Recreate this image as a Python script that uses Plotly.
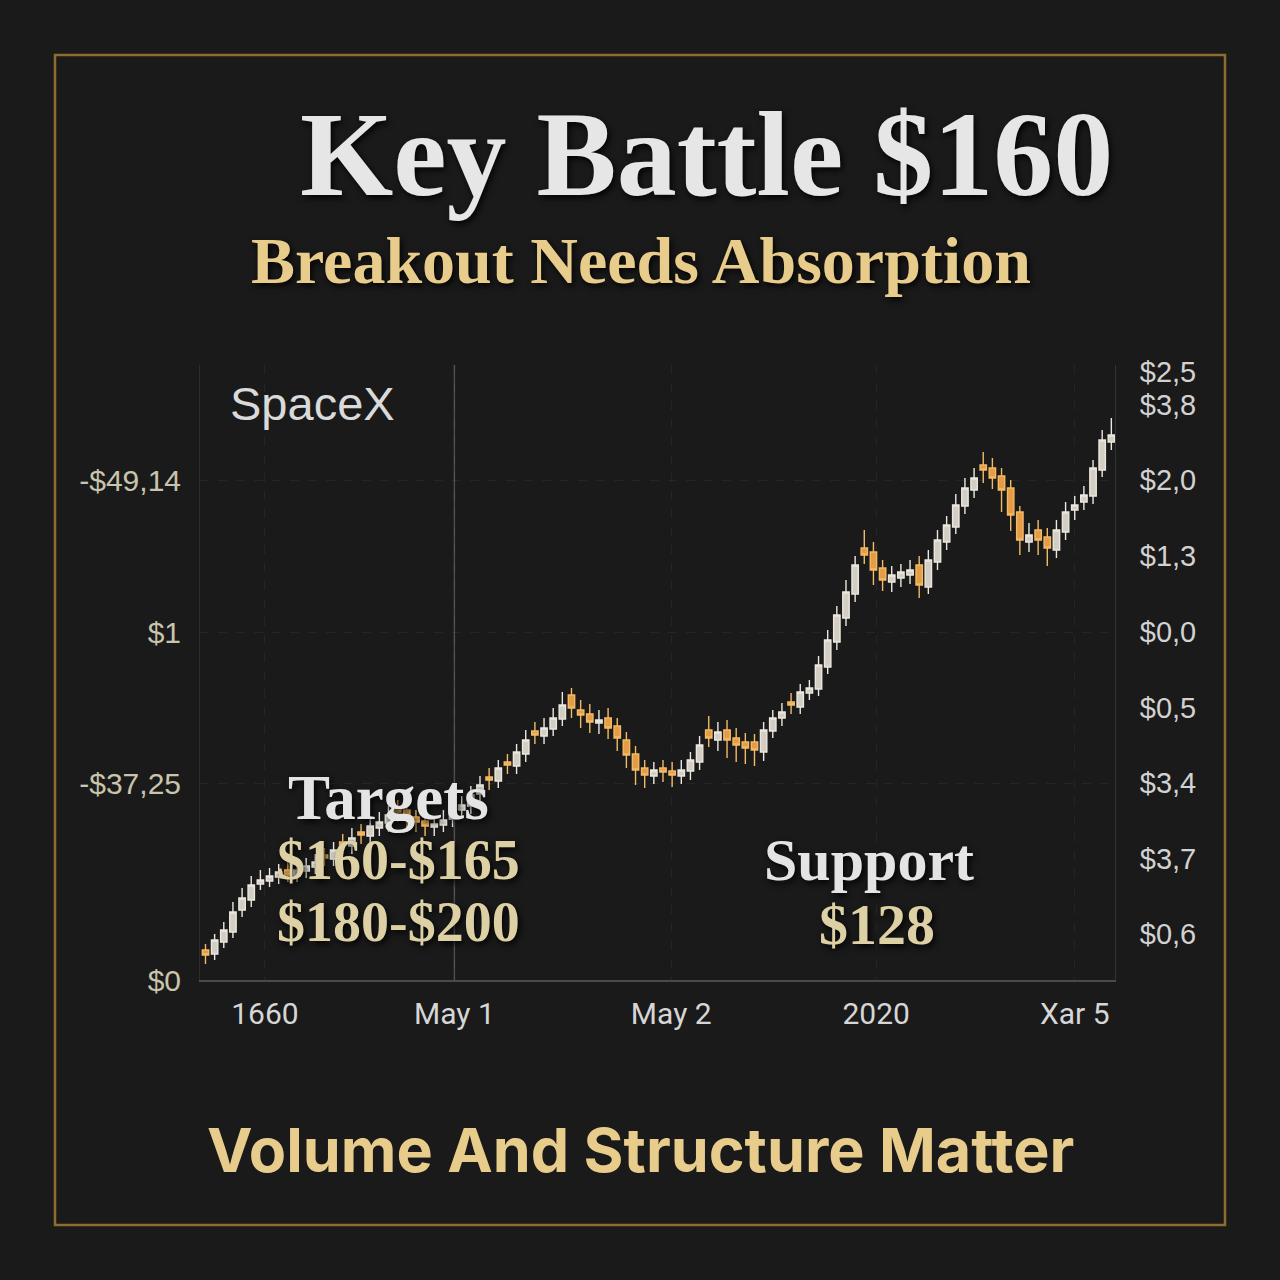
import plotly.graph_objects as go

# ---------------- data ----------------
opens = [30, 26, 38, 48, 70, 80, 96, 99, 103, 110, 104, 109, 113, 125, 121, 138, 134, 148, 144, 152,
         157, 172, 170, 163, 159, 153, 155, 161, 170, 174, 186, 203, 199, 218, 214, 226, 249, 244, 251, 261,
         285, 270, 266, 257, 262, 254, 240, 226, 212, 204, 212, 209, 204, 209, 218, 250, 240, 250, 242, 238,
         238, 228, 249, 262, 278, 273, 287, 291, 313, 338, 362, 386, 432, 428, 412, 398, 402, 405, 415, 393,
         418, 438, 453, 474, 490, 515, 512, 504, 492, 468, 438, 450, 443, 430, 448, 470, 478, 484, 510, 538]
closes = [25, 40, 50, 68, 82, 95, 100, 104, 108, 105, 110, 114, 118, 122, 130, 135, 142, 145, 154, 158,
          165, 168, 162, 158, 154, 156, 160, 168, 175, 185, 195, 200, 212, 215, 228, 240, 245, 252, 262, 275,
          272, 265, 258, 260, 252, 242, 225, 210, 205, 210, 208, 205, 210, 220, 235, 242, 248, 240, 235, 232,
          230, 250, 262, 268, 275, 288, 292, 315, 340, 365, 388, 415, 425, 410, 400, 405, 408, 410, 395, 420,
          440, 455, 475, 492, 502, 510, 502, 490, 465, 440, 445, 440, 432, 450, 468, 475, 485, 512, 540, 545]
highs = [36, 46, 58, 78, 92, 104, 110, 112, 116, 118, 120, 122, 126, 132, 138, 146, 152, 156, 162, 168,
         174, 180, 178, 170, 166, 164, 170, 177, 184, 194, 204, 212, 220, 226, 236, 250, 258, 262, 272, 288,
         292, 280, 276, 270, 272, 262, 248, 234, 220, 218, 220, 218, 220, 228, 244, 264, 258, 260, 252, 247,
         246, 258, 270, 277, 287, 296, 300, 324, 350, 374, 400, 424, 450, 438, 420, 414, 416, 420, 424, 430,
         450, 464, 486, 502, 512, 528, 522, 512, 500, 474, 457, 460, 452, 460, 478, 484, 494, 520, 550, 562]
lows = [16, 20, 32, 42, 63, 73, 90, 93, 96, 98, 98, 102, 106, 114, 114, 126, 126, 136, 136, 144,
        148, 158, 152, 148, 144, 144, 148, 153, 162, 166, 178, 190, 192, 206, 206, 218, 236, 236, 244, 254,
        262, 252, 247, 246, 241, 229, 212, 195, 192, 196, 198, 193, 196, 200, 210, 233, 229, 222, 218, 216,
        214, 219, 242, 254, 266, 266, 280, 284, 306, 330, 354, 378, 416, 395, 389, 388, 393, 396, 382, 386,
        410, 430, 446, 466, 482, 497, 491, 468, 449, 425, 428, 425, 414, 422, 440, 460, 470, 476, 503, 530]
idx = list(range(len(closes)))

x_tick_vals = [6.5, 27.2, 50.9, 73.3, 95.0]
x_tick_text = ["1660", "May 1", "May 2", "2020", "Xar 5"]
left_tick_vals = [0, 197, 348, 500]
left_tick_text = ["$0", "-$37,25", "$1", "-$49,14"]
right_tick_vals = [46, 121, 197, 272, 348, 424, 500, 575, 608]
right_tick_text = ["$0,6", "$3,7", "$3,4", "$0,5", "$0,0", "$1,3", "$2,0", "$3,8", "$2,5"]

# ---------------- layout helpers ----------------
W, H = 1280, 1280
PL, PR, PT, PB = 200, 1115, 365, 980


def px(x):
    return (x - PL) / (PR - PL)


def py(y):
    return (PB - y) / (PB - PT)


BG = "#1a1a1a"
GOLD = "#e8cc8c"
BEIGE = "#dcd0a4"
SHADOW = "2px 3px 6px rgba(0,0,0,0.9)"

fig = go.Figure()
fig.add_trace(go.Candlestick(
    x=idx, open=opens, high=highs, low=lows, close=closes,
    increasing=dict(fillcolor="#d2cec4", line=dict(color="#ebe7de", width=1.4)),
    decreasing=dict(fillcolor="#e59c44", line=dict(color="#f3ba66", width=1.4)),
    whiskerwidth=0, showlegend=False, hoverinfo="skip",
))
# invisible trace to activate right axis
fig.add_trace(go.Scatter(x=[idx[0]], y=[closes[0]], yaxis="y2", mode="markers",
                         marker=dict(opacity=0), showlegend=False, hoverinfo="skip"))

fig.update_layout(
    width=W, height=H,
    paper_bgcolor=BG, plot_bgcolor=BG,
    margin=dict(l=PL, r=W - PR, t=PT, b=H - PB),
    showlegend=False,
    boxgap=0.0,
    xaxis=dict(
        range=[-0.6, 99.4], rangeslider=dict(visible=False),
        tickmode="array", tickvals=x_tick_vals, ticktext=x_tick_text,
        showgrid=True, gridcolor="rgba(255,255,255,0.05)", griddash="dash", gridwidth=1,
        showline=True, linecolor="#4a4a4a", linewidth=1.5, zeroline=False,
        ticks="", ticklabelstandoff=6,
        tickfont=dict(family="Liberation Sans Narrow, Roboto, sans-serif", size=30, color="#d6d6d6"),
    ),
    yaxis=dict(
        range=[0, 615], tickmode="array", tickvals=left_tick_vals, ticktext=left_tick_text,
        showgrid=True, gridcolor="rgba(255,255,255,0.05)", griddash="dash", gridwidth=1,
        showline=True, linecolor="#2c2c2c", zeroline=False, ticks="", ticklabelstandoff=12,
        tickfont=dict(family="Liberation Sans, Arial, sans-serif", size=30, color="#c9c4ac"),
    ),
    yaxis2=dict(
        range=[0, 615], overlaying="y", side="right", tickmode="array",
        tickvals=right_tick_vals, ticktext=right_tick_text, showgrid=False,
        showline=True, linecolor="#333333", zeroline=False, ticks="", ticklabelstandoff=18,
        tickfont=dict(family="Liberation Sans, Arial, sans-serif", size=29, color="#d2d2d2"),
    ),
)

# bright divider line at May 1
fig.add_shape(type="line", xref="x", yref="paper", x0=27.2, x1=27.2, y0=0, y1=1,
              line=dict(color="rgba(255,255,255,0.22)", width=1.5))
# gold frame
fig.add_shape(type="rect", xref="paper", yref="paper",
              x0=px(55), x1=px(1225), y0=py(1225), y1=py(55),
              line=dict(color="#8d6b2f", width=2.5), fillcolor="rgba(0,0,0,0)", layer="below")

ann = [
    ("Key Battle $160", 706, 155, "center", dict(family="Liberation Serif, serif", size=120, color="#e6e6e6", weight="bold", shadow=SHADOW)),
    ("Breakout Needs Absorption", 641, 260, "center", dict(family="Liberation Serif, serif", size=66, color=GOLD, weight="bold", shadow=SHADOW)),
    ("SpaceX", 228, 403, "left", dict(family="Liberation Sans, Arial, sans-serif", size=47, color="#dadada")),
    ("Targets", 388, 798, "center", dict(family="Liberation Serif, serif", size=63, color="#e4e4e4", weight="bold", shadow=SHADOW)),
    ("$160-$165", 398, 860, "center", dict(family="Liberation Serif, serif", size=56, color=BEIGE, weight="bold", shadow=SHADOW)),
    ("$180-$200", 398, 922, "center", dict(family="Liberation Serif, serif", size=56, color=BEIGE, weight="bold", shadow=SHADOW)),
    ("Support", 869, 860, "center", dict(family="Liberation Serif, serif", size=60, color="#e4e4e4", weight="bold", shadow=SHADOW)),
    ("$128", 877, 924, "center", dict(family="Liberation Serif, serif", size=58, color=BEIGE, weight="bold", shadow=SHADOW)),
    ("Volume And Structure Matter", 640, 1150, "center", dict(family="Inter, Liberation Sans, sans-serif", size=61, color=GOLD, weight="bold")),
]
for text, x, y, anchor, font in ann:
    fig.add_annotation(text=text, xref="paper", yref="paper", x=px(x), y=py(y),
                       xanchor=anchor, yanchor="middle", showarrow=False, font=font)

fig.write_html("out.html", config={"displayModeBar": False},
               post_script="document.body.style.margin='0';document.body.style.overflow='hidden';")
